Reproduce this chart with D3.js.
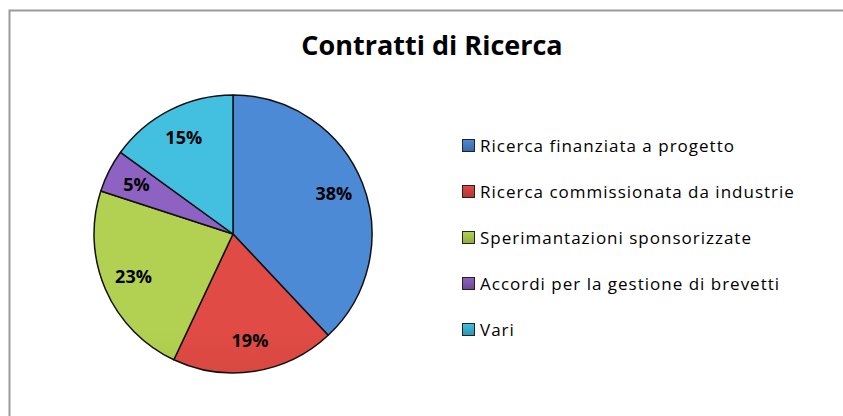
<!DOCTYPE html>
<html>
<head>
<meta charset="utf-8">
<script src="https://cdn.jsdelivr.net/npm/d3@7"></script>
<style>
  body { margin: 0; background: #fff; }
  svg { display: block; }
</style>
</head>
<body>
<div id="chart"></div>
<script>
  //////////// *** DATA *** ////////////

  var categories = [
    "Ricerca finanziata a progetto",
    "Ricerca commissionata da industrie",
    "Sperimantazioni sponsorizzate",
    "Accordi per la gestione di brevetti",
    "Vari"
  ];
  var values = [38, 19, 23, 5, 15];
  var title = "Contratti di Ricerca";

  //////////// *** VARIABLES *** ////////////

  var width = 843, height = 416;
  var cx = 233, cy = 234, radius = 139;
  var font = "'Open Sans', Lato, sans-serif";

  var topColors = ["#4d8ad6", "#e04b45", "#b2d152", "#8e62c2", "#43c0e0"];
  var bottomColors = ["#3767a8", "#b3352f", "#8fae3b", "#6d4795", "#2e93b0"];

  var svg = d3.select("#chart").append("svg")
    .attr("width", width)
    .attr("height", height);

  var defs = svg.append("defs");

  // chart area border (only top and left visible)
  svg.append("path")
    .attr("d", "M9.5," + height + "V10.5H" + width)
    .attr("fill", "none")
    .attr("stroke", "#9a9a9a")
    .attr("stroke-width", 2);

  svg.append("text")
    .attr("x", 432)
    .attr("y", 55)
    .attr("text-anchor", "middle")
    .attr("font-family", font)
    .attr("font-weight", "bold")
    .attr("font-size", 27)
    .attr("fill", "#000")
    .text(title);

  var colorScale = d3.scaleOrdinal().domain(categories).range(d3.range(categories.length));

  // gradients for slices
  categories.forEach(function(c, i) {
    var g = defs.append("linearGradient")
      .attr("id", "grad" + i)
      .attr("gradientUnits", "userSpaceOnUse")
      .attr("x1", 0).attr("y1", cy - radius)
      .attr("x2", 0).attr("y2", cy + radius);
    g.append("stop").attr("offset", "0%").attr("stop-color", topColors[i]);
    g.append("stop").attr("offset", "100%").attr("stop-color", bottomColors[i]);

    var lg = defs.append("linearGradient")
      .attr("id", "lgrad" + i)
      .attr("x1", 0).attr("y1", 0)
      .attr("x2", 0).attr("y2", 1);
    lg.append("stop").attr("offset", "0%").attr("stop-color", topColors[i]);
    lg.append("stop").attr("offset", "100%").attr("stop-color", bottomColors[i]);
  });

  var pie = d3.pie().sort(null).value(function(d) { return d.value; });
  var data = categories.map(function(c, i) { return {name: c, value: values[i]}; });
  var arcs = pie(data);

  var arc = d3.arc().innerRadius(0).outerRadius(radius);
  var labelArc = d3.arc().innerRadius(radius * 0.78).outerRadius(radius * 0.78);

  var g = svg.append("g").attr("transform", "translate(" + cx + "," + cy + ")");

  g.selectAll(".slice")
    .data(arcs)
    .enter().append("path")
    .attr("class", "slice")
    .attr("d", arc)
    .attr("fill", function(d) { return "url(#grad" + colorScale(d.data.name) + ")"; })
    .attr("stroke", "#111")
    .attr("stroke-width", 1.5)
    .attr("stroke-linejoin", "round");

  var total = d3.sum(values);

  g.selectAll(".label")
    .data(arcs)
    .enter().append("text")
    .attr("class", "label")
    .attr("transform", function(d) { return "translate(" + labelArc.centroid(d) + ")"; })
    .attr("text-anchor", "middle")
    .attr("dy", "0.35em")
    .attr("font-family", font)
    .attr("font-weight", "bold")
    .attr("font-size", 18)
    .attr("fill", "#000")
    .text(function(d) { return Math.round(d.data.value / total * 100) + "%"; });

  //////////// *** LEGEND *** ////////////

  var legendY = d3.scalePoint().domain(categories).range([146, 330]);

  var legend = svg.selectAll(".legend")
    .data(categories)
    .enter().append("g")
    .attr("class", "legend")
    .attr("transform", function(d) { return "translate(462," + legendY(d) + ")"; });

  legend.append("rect")
    .attr("x", 0.5)
    .attr("y", -6.5)
    .attr("width", 12)
    .attr("height", 12)
    .attr("fill", function(d) { return "url(#lgrad" + colorScale(d) + ")"; })
    .attr("stroke", "#222")
    .attr("stroke-width", 1);

  legend.append("text")
    .attr("x", 18)
    .attr("y", 0)
    .attr("dy", "0.35em")
    .attr("font-family", font)
    .attr("font-size", 17)
    .attr("letter-spacing", 1)
    .attr("fill", "#000")
    .text(function(d) { return d; });
</script>
</body>
</html>
